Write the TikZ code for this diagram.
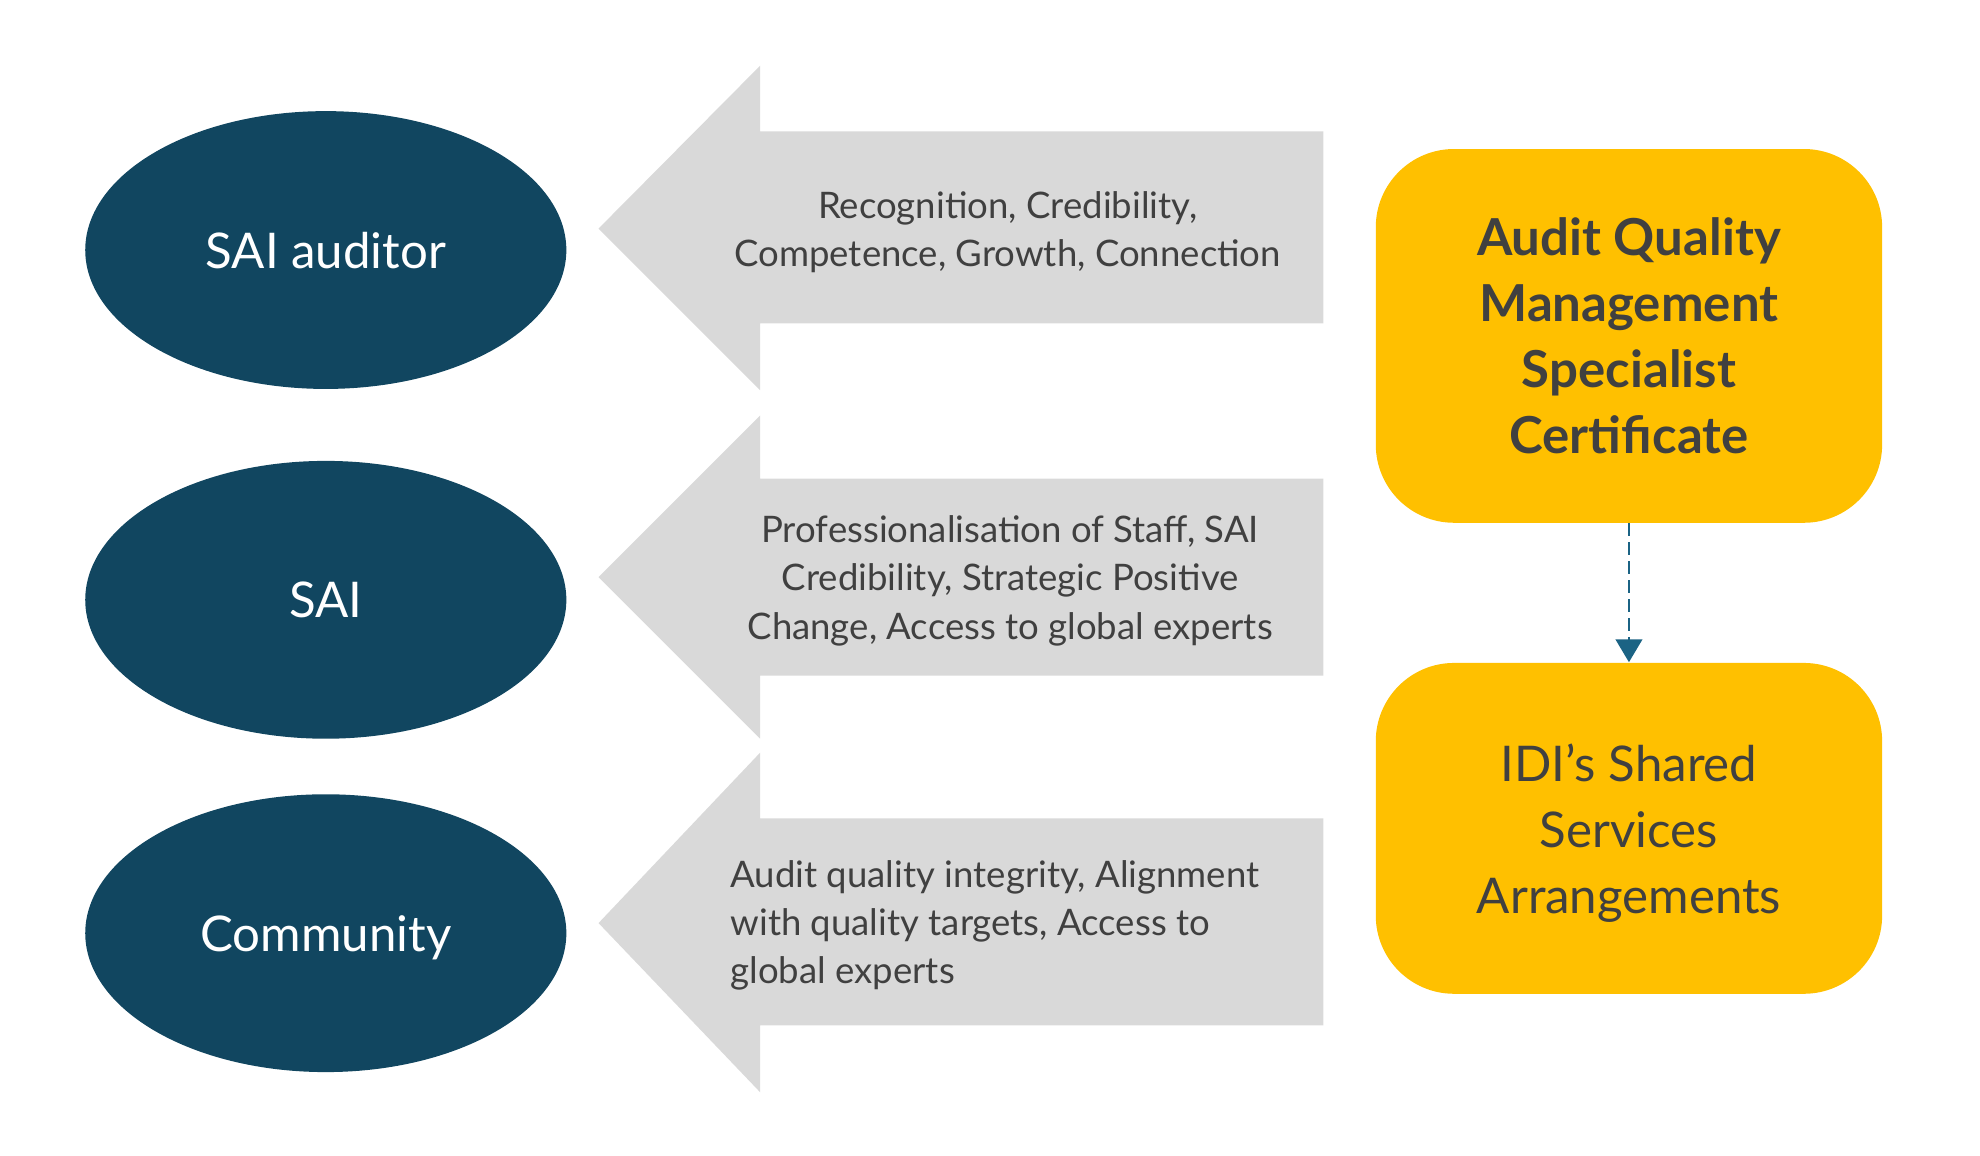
\documentclass[tikz,border=0pt]{standalone}
\usepackage{fontspec}
\setmainfont{Lato}
\usetikzlibrary{arrows.meta, shapes.geometric}

\definecolor{saiblue}{HTML}{114660}
\definecolor{arrowgray}{HTML}{D9D9D9}
\definecolor{certyellow}{HTML}{FFC000}
\definecolor{textgray}{HTML}{404040}
\definecolor{linkblue}{HTML}{1B6384}

\newcommand{\pxu}{0.12628mm}

\tikzset{
  party/.style={draw=none, fill=saiblue, ellipse, minimum width=381*\pxu, minimum height=220*\pxu,
    text=white, text depth=0pt, font=\fontsize{14}{17}\selectfont},
  benefit/.style={text=textgray, font=\fontsize{10.4}{13.7}\selectfont, inner sep=0pt},
  offer/.style={fill=certyellow, rounded corners=62*\pxu, minimum width=401*\pxu,
    text=textgray, align=center, inner sep=0pt},
  link/.style={draw=linkblue, line width=0.8pt, dash pattern=on 3.6pt off 1.8pt,
    -{Triangle[width=7.5pt, length=6.5pt]}}
}

\begin{document}
\begin{tikzpicture}[x=\pxu, y=-\pxu]

    \useasboundingbox (0,0) rectangle (1568,915);

    % Define nodes in the first column (left)
    \node[party] (auditor) at (258,198) {SAI auditor};
    \node[party] (sai) at (258,475) {SAI};
    \node[party] (community) at (258,739) {Community};

    % Draw the grey arrows in the middle column
    \fill[arrowgray] (1048,104) -- (602,104) -- (602,52) -- (474,181) -- (602,309) -- (602,256) -- (1048,256) -- cycle;
    \fill[arrowgray] (1048,379) -- (602,379) -- (602,329) -- (474,457) -- (602,585) -- (602,535) -- (1048,535) -- cycle;
    \fill[arrowgray] (1048,648) -- (602,648) -- (602,596) -- (474,731) -- (602,865) -- (602,812) -- (1048,812) -- cycle;

    % Define text nodes on the arrows
    \node[benefit, align=center] (gain1) at (798,184) {Recognition, Credibility,\\Competence, Growth, Connection};
    \node[benefit, align=center] (gain2) at (800,460) {Professionalisation of Staff, SAI\\Credibility, Strategic Positive\\Change, Access to global experts};
    \node[benefit, align=left, anchor=west] (gain3) at (578,733) {Audit quality integrity, Alignment\\with quality targets, Access to\\global experts};

    % Define nodes in the right column
    \node[offer, minimum height=296*\pxu, font=\bfseries\fontsize{14.5}{18.8}\selectfont] (cert) at (1290,266)
        {Audit Quality\\Management\\Specialist\\Certificate};
    \node[offer, minimum height=262*\pxu, text depth=0pt, font=\fontsize{14}{18.8}\selectfont] (idi) at (1290,656)
        {IDI’s Shared\\Services\\Arrangements};

    % Draw the dashed link between the two boxes
    \draw[link] (cert) -- (idi);

\end{tikzpicture}
\end{document}
